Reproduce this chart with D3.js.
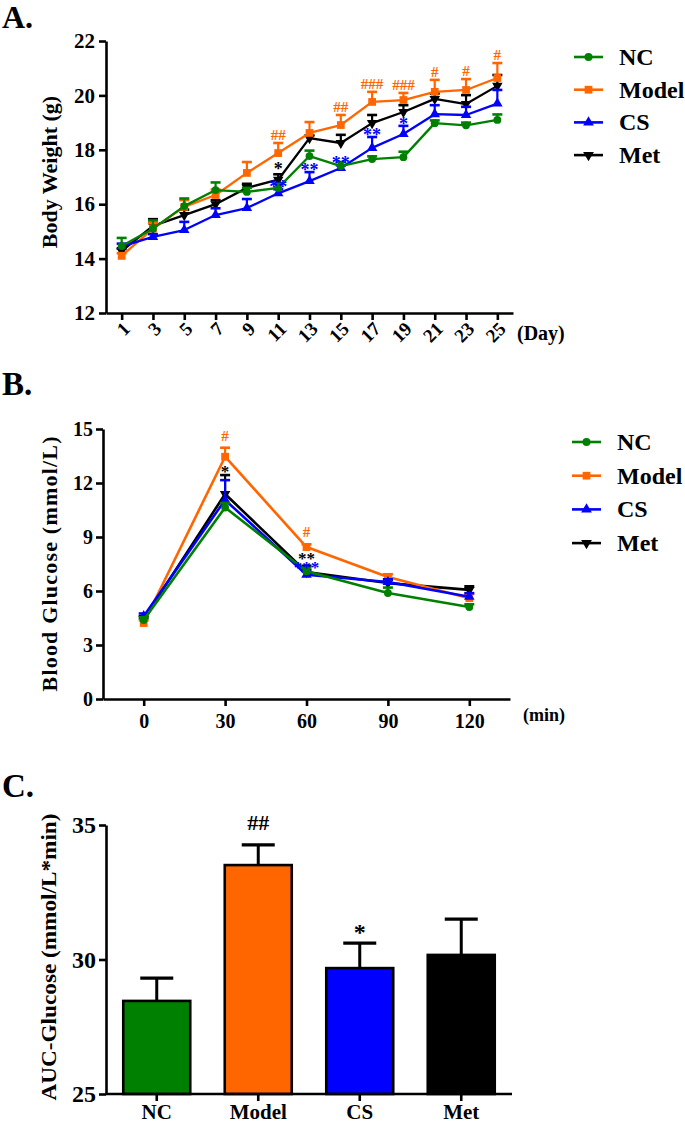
<!DOCTYPE html>
<html><head><meta charset="utf-8">
<script src="https://cdn.jsdelivr.net/npm/d3@7"></script>
<style>
body{margin:0;background:#fff}
svg text{font-family:"Liberation Serif","DejaVu Serif",serif;font-weight:bold;fill:#000}
</style>
</head><body>
<svg id="c" width="685" height="1126"></svg>
<script>
// ---------- DATA ----------
const groups = ["NC","Model","CS","Met"];
const groupColors = ["#008000","#FF6600","#0000FF","#000000"];
const groupSymbols = ["circle","square","triUp","triDown"];

// Panel A: body weight (g)
const days = [1,3,5,7,9,11,13,15,17,19,21,23,25];
const weightNC    = [14.46,15.10,15.93,16.52,16.45,16.60,17.77,17.40,17.66,17.73,18.98,18.90,19.10];
const weightModel = [14.10,15.10,15.90,16.34,17.15,17.88,18.62,18.91,19.76,19.83,20.13,20.20,20.64];
const weightCS    = [14.45,14.80,15.05,15.60,15.86,16.40,16.85,17.33,18.07,18.58,19.31,19.28,19.70];
const weightMet   = [14.28,15.20,15.60,16.00,16.60,16.90,18.43,18.25,18.98,19.39,19.87,19.68,20.35];
const weightErrNC    = [0.30,0.30,0.28,0.28,0.15,0.15,0.20,0.15,0.10,0.20,0.10,0.10,0.20];
const weightErrModel = [0.10,0.20,0.25,0.20,0.40,0.37,0.40,0.37,0.37,0.26,0.44,0.40,0.55];
const weightErrCS    = [0.10,0.10,0.30,0.25,0.33,0.15,0.33,0.10,0.40,0.30,0.33,0.30,0.50];
const weightErrMet   = [0.10,0.25,0.20,0.15,0.15,0.20,0.10,0.30,0.30,0.25,0.20,0.33,0.40];
const weightTicks = [12,14,16,18,20,22];
const weightSig = [
  {day:11,group:"Model",text:"##"},{day:11,group:"Met",text:"*"},{day:11,group:"CS",text:"**"},
  {day:13,group:"CS",text:"**"},
  {day:15,group:"Model",text:"##"},{day:15,group:"CS",text:"**"},
  {day:17,group:"Model",text:"###"},{day:17,group:"CS",text:"**"},
  {day:19,group:"Model",text:"###"},{day:19,group:"CS",text:"*"},
  {day:21,group:"Model",text:"#"},{day:23,group:"Model",text:"#"},{day:25,group:"Model",text:"#"}
];

// Panel B: blood glucose (mmol/L)
const times = [0,30,60,90,120];
const glucoseNC    = [4.39,10.64,7.10,5.89,5.11];
const glucoseModel = [4.22,13.46,8.44,6.78,5.60];
const glucoseCS    = [4.60,11.06,6.90,6.50,5.68];
const glucoseMet   = [4.45,11.39,7.05,6.44,6.06];
const glucoseErrNC    = [0.15,0.25,0.20,0.30,0.15];
const glucoseErrModel = [0.15,0.50,0.15,0.15,0.25];
const glucoseErrCS    = [0.15,1.10,0.20,0.15,0.20];
const glucoseErrMet   = [0.15,1.05,0.35,0.20,0.20];
const glucoseTicks = [0,3,6,9,12,15];
const glucoseSig = [
  {t:30,group:"Model",text:"#"},{t:30,group:"Met",text:"*"},
  {t:60,group:"Model",text:"#"},{t:60,group:"Met",text:"**"},{t:60,group:"CS",text:"***"}
];

// Panel C: AUC
const aucValues = [28.46,33.51,29.68,30.17];
const aucErrors = [0.85,0.75,0.93,1.33];
const aucSig = ["","##","*",""];
const aucTicks = [25,30,35];

// ---------- HELPERS ----------
const svg = d3.select("#c");
const FONT = '"Liberation Serif","DejaVu Serif",serif';

function symPath(kind, size){
  if(kind==="circle") return d3.symbol(d3.symbolCircle, size)();
  if(kind==="square") return d3.symbol(d3.symbolSquare, size)();
  return d3.symbol(d3.symbolTriangle, size)();
}
function drawMarker(g, kind, x, y, color, size){
  g.append("path").attr("d", symPath(kind,size))
   .attr("transform", `translate(${x},${y})` + (kind==="triDown" ? " rotate(180)" : ""))
   .attr("fill", color).attr("stroke","none");
}
function styleAxis(g, fs){
  g.selectAll("path.domain").attr("stroke","#000").attr("stroke-width",2.6);
  g.selectAll(".tick line").attr("stroke","#000").attr("stroke-width",2.6);
  g.selectAll("text").attr("font-family",null).style("font-family",FONT).style("font-weight","bold").style("font-size",fs+"px").attr("fill","#000");
}
function legend(g, x0, yStart, step){
  groups.forEach((name,i)=>{
    const y = yStart + i*step;
    g.append("line").attr("x1",x0).attr("x2",x0+29).attr("y1",y).attr("y2",y)
     .attr("stroke",groupColors[i]).attr("stroke-width",2.6);
    drawMarker(g, groupSymbols[i], x0+14.5, y, groupColors[i], groupSymbols[i]==="square"?60:50);
    g.append("text").attr("x",x0+45).attr("y",y+8).style("font-size","24px").text(name);
  });
}
function lineChart(g, xs, series, errs, x, y, lw, capW){
  const order = [3,1,2,0];
  order.forEach(i=>{
    const col = groupColors[i];
    const vals = series[i], ev = errs[i];
    xs.forEach((xv,j)=>{
      const px = x(xv), py = y(vals[j]), pt = y(vals[j]+ev[j]);
      g.append("line").attr("x1",px).attr("x2",px).attr("y1",py).attr("y2",pt).attr("stroke",col).attr("stroke-width",2.2);
      g.append("line").attr("x1",px-capW/2).attr("x2",px+capW/2).attr("y1",pt).attr("y2",pt).attr("stroke",col).attr("stroke-width",2.6);
    });
    const line = d3.line().x((d,j)=>x(xs[j])).y(d=>y(d));
    g.append("path").datum(vals).attr("d",line).attr("fill","none").attr("stroke",col).attr("stroke-width",lw).attr("stroke-linejoin","round");
    xs.forEach((xv,j)=> drawMarker(g, groupSymbols[i], x(xv), y(vals[j]), col, groupSymbols[i]==="square"?60:48));
  });
}

// ---------- PANEL A ----------
{
  const g = svg.append("g");
  const x = d3.scaleLinear().domain([0,26]).range([106,513]);
  const y = d3.scaleLinear().domain([12,22]).range([313,41]);
  const series = [weightNC,weightModel,weightCS,weightMet];
  const errs = [weightErrNC,weightErrModel,weightErrCS,weightErrMet];

  const ya = g.append("g").attr("transform","translate(106,0)")
    .call(d3.axisLeft(y).tickValues(weightTicks).tickSize(7).tickSizeOuter(0).tickPadding(4));
  styleAxis(ya, 21);
  const xa = g.append("g").attr("transform","translate(0,313)")
    .call(d3.axisBottom(x).tickValues(days).tickSize(7).tickSizeOuter(0));
  styleAxis(xa, 19);
  xa.selectAll(".tick text").attr("y",0).attr("dy",0)
    .attr("transform","translate(9,17) rotate(-45)").style("text-anchor","end");

  lineChart(g, days, series, errs, x, y, 2.3, 10);

  weightSig.forEach(s=>{
    const gi = groups.indexOf(s.group), j = days.indexOf(s.day);
    const top = y(series[gi][j] + errs[gi][j]);
    const isHash = s.text.includes("#");
    const lift = (s.day===11 && s.group==="Met") ? 3 : 0;
    g.append("text").attr("x",x(s.day)).attr("y", (isHash ? top-3 : top+4) - lift)
      .attr("text-anchor","middle").style("font-size", isHash?"15px":"18px")
      .style("fill",groupColors[gi]).text(s.text);
  });

  g.append("text").attr("transform","translate(57,172) rotate(-90)").attr("text-anchor","middle")
    .style("font-size","22px").text("Body Weight (g)");
  g.append("text").attr("x",517).attr("y",340).style("font-size","20px").text("(Day)");
  g.append("text").attr("x",2).attr("y",28).style("font-size","32px").text("A.");
  legend(g, 574, 57, 32.7);
}

// ---------- PANEL B ----------
{
  const g = svg.append("g");
  const x = d3.scaleLinear().domain([-15,135]).range([103,510]);
  const y = d3.scaleLinear().domain([0,15]).range([699,429]);
  const series = [glucoseNC,glucoseModel,glucoseCS,glucoseMet];
  const errs = [glucoseErrNC,glucoseErrModel,glucoseErrCS,glucoseErrMet];

  const ya = g.append("g").attr("transform","translate(103,0)")
    .call(d3.axisLeft(y).tickValues(glucoseTicks).tickSize(7).tickSizeOuter(0).tickPadding(3));
  styleAxis(ya, 20);
  const xa = g.append("g").attr("transform","translate(0,699)")
    .call(d3.axisBottom(x).tickValues(times).tickSize(7).tickSizeOuter(0).tickPadding(8));
  styleAxis(xa, 20);

  lineChart(g, times, series, errs, x, y, 2.6, 10);

  glucoseSig.forEach(s=>{
    const gi = groups.indexOf(s.group), j = times.indexOf(s.t);
    const top = y(series[gi][j] + errs[gi][j]);
    const isHash = s.text.includes("#");
    const lift = (s.t===60 && s.group==="Met") ? 4 : 0;
    g.append("text").attr("x",x(s.t)).attr("y", (isHash ? top-7 : top+2) - lift)
      .attr("text-anchor","middle").style("font-size", isHash?"15px":"17px")
      .style("fill",groupColors[gi]).text(s.text);
  });

  g.append("text").attr("transform","translate(57,564) rotate(-90)").attr("text-anchor","middle")
    .attr("textLength",255).attr("lengthAdjust","spacing")
    .style("font-size","22px").text("Blood Glucose  (mmol/L)");
  g.append("text").attr("x",523).attr("y",721).style("font-size","18px").text("(min)");
  g.append("text").attr("x",2).attr("y",395).style("font-size","33px").text("B.");
  legend(g, 572, 442, 33.7);
}

// ---------- PANEL C ----------
{
  const g = svg.append("g");
  const x = d3.scaleBand().domain(groups).range([106,512]).paddingInner(0.34).paddingOuter(0.17);
  const y = d3.scaleLinear().domain([25,35]).range([1094,825]);

  groups.forEach((name,i)=>{
    const cx = x(name) + x.bandwidth()/2;
    const top = y(aucValues[i]+aucErrors[i]);
    g.append("line").attr("x1",cx).attr("x2",cx).attr("y1",y(aucValues[i])).attr("y2",top).attr("stroke","#000").attr("stroke-width",3);
    g.append("line").attr("x1",cx-16.5).attr("x2",cx+16.5).attr("y1",top).attr("y2",top).attr("stroke","#000").attr("stroke-width",3.2);
    g.append("rect").attr("x",x(name)).attr("y",y(aucValues[i]))
      .attr("width",x.bandwidth()).attr("height",y(25)-y(aucValues[i]))
      .attr("fill",groupColors[i]).attr("stroke","#000").attr("stroke-width",2.6);
    if(aucSig[i]){
      const isHash = aucSig[i].includes("#");
      g.append("text").attr("x",cx).attr("y", isHash ? top-15 : top-3)
        .attr("text-anchor","middle").style("font-size", isHash?"22px":"24px").text(aucSig[i]);
    }
  });

  const ya = g.append("g").attr("transform","translate(106,0)")
    .call(d3.axisLeft(y).tickValues(aucTicks).tickSize(7).tickSizeOuter(0).tickPadding(3));
  styleAxis(ya, 24);
  const xa = g.append("g").attr("transform","translate(0,1094)")
    .call(d3.axisBottom(x).tickSize(7).tickSizeOuter(0).tickPadding(3));
  styleAxis(xa, 21);
  xa.select("path.domain").attr("d","M106,0H512");

  g.append("text").attr("transform","translate(56,957) rotate(-90)").attr("text-anchor","middle")
    .attr("textLength",287).attr("lengthAdjust","spacingAndGlyphs")
    .style("font-size","22px").text("AUC-Glucose (mmol/L*min)");
  g.append("text").attr("x",2).attr("y",797).style("font-size","33px").text("C.");
}
</script>
</body></html>
